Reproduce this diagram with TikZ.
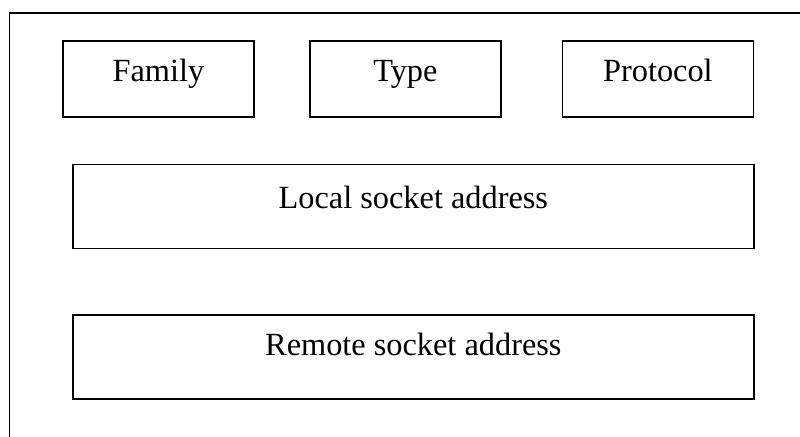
\documentclass[tikz,border=0pt]{standalone}
\usepackage{fontspec}
\setmainfont{Liberation Serif}
\usepackage{tikz}
\usetikzlibrary{positioning}

\begin{document}
\begin{tikzpicture}[
  field/.style={draw, line width=1.1pt, rectangle, minimum width=4.775cm, minimum height=1.9cm,
    text height=0.55cm, text depth=0.45cm, inner sep=0pt, font=\fontsize{23}{27}\selectfont},
  addr/.style={field, minimum width=17.025cm, minimum height=2.1cm},
  node distance=1.4cm
]
\useasboundingbox (0,0) rectangle (20,-10.9);
\clip (0,0) rectangle (20,-10.9);

% outer socket frame (runs off the page)
\draw[line width=1.1pt] (0.235,-0.32) rectangle (21,-11.5);

\node[field] (fam) at (3.96,-1.975) {Family};
\node[field, right=1.36cm of fam] (typ) {Type};
\node[field, right=1.5cm of typ] (prot) {Protocol};

\node[addr, below=1.15cm of typ, xshift=0.2cm] (local) {Local socket address};
\node[addr, below=1.62cm of local, text depth=0.6cm] (remote) {Remote socket address};

\end{tikzpicture}
\end{document}
